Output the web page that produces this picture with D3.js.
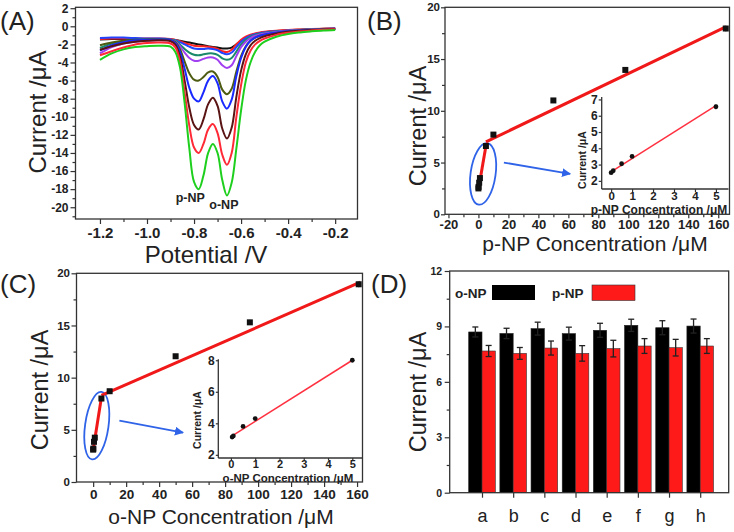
<!DOCTYPE html>
<html><head><meta charset="utf-8">
<script src="https://cdn.jsdelivr.net/npm/d3@7"></script>
<style>body{margin:0;background:#fff}svg{display:block}</style>
</head><body><svg id="c" width="734" height="532"></svg>
<script>
// ---------------- DATA ----------------
// (A) DPV curves
const potential = [-1.2,-1.15,-1.1,-1.05,-1.0,-0.95,-0.9,-0.88,-0.86,-0.84,-0.82,-0.8,-0.78,-0.76,-0.74,-0.72,-0.7,-0.68,-0.66,-0.64,-0.62,-0.6,-0.58,-0.56,-0.54,-0.52,-0.5,-0.45,-0.4,-0.35,-0.3,-0.25,-0.2];
const curveGreen = [-3.7,-3.0,-2.55,-2.3,-2.2,-2.15,-2.25,-2.8,-4.5,-8.5,-13.5,-17.2,-18.0,-16.5,-14.0,-13.0,-14.0,-17.0,-18.7,-17.3,-13.5,-9.3,-6.0,-4.0,-2.8,-2.1,-1.7,-1.15,-0.85,-0.68,-0.56,-0.46,-0.4];
const curveRed2 = [-3.2,-2.75,-2.35,-2.0,-1.85,-1.8,-1.9,-2.3,-3.8,-7.3,-11.0,-13.4,-14.0,-13.0,-11.4,-10.8,-11.8,-14.2,-15.3,-14.0,-10.0,-6.5,-4.0,-2.7,-2.0,-1.6,-1.35,-0.95,-0.72,-0.57,-0.47,-0.39,-0.32];
const curveBrown = [-2.6,-2.2,-1.9,-1.7,-1.6,-1.55,-1.65,-2.0,-3.3,-6.0,-9.0,-10.9,-11.4,-10.3,-8.6,-7.9,-8.8,-11.3,-12.4,-11.2,-7.8,-4.9,-3.1,-2.1,-1.6,-1.3,-1.1,-0.8,-0.6,-0.5,-0.42,-0.36,-0.3];
const curveBlue2 = [-2.7,-2.1,-1.75,-1.55,-1.5,-1.45,-1.55,-1.85,-2.8,-4.7,-6.8,-8.0,-8.3,-7.3,-6.0,-5.5,-6.3,-8.3,-9.1,-8.1,-5.5,-3.5,-2.3,-1.6,-1.25,-1.05,-0.9,-0.7,-0.55,-0.46,-0.4,-0.34,-0.28];
const curveOlive = [-2.1,-1.8,-1.6,-1.5,-1.45,-1.45,-1.5,-1.75,-2.5,-3.9,-5.2,-5.9,-6.0,-5.6,-5.1,-5.0,-5.6,-7.0,-7.5,-6.9,-5.0,-3.3,-2.2,-1.6,-1.25,-1.05,-0.92,-0.72,-0.56,-0.47,-0.41,-0.35,-0.3];
const curveViolet = [-3.0,-2.3,-1.9,-1.7,-1.6,-1.55,-1.55,-1.7,-2.2,-2.9,-3.5,-3.8,-3.8,-3.6,-3.45,-3.45,-3.7,-4.3,-4.6,-4.3,-3.3,-2.3,-1.7,-1.3,-1.05,-0.9,-0.8,-0.62,-0.5,-0.43,-0.38,-0.33,-0.28];
const curveTeal = [-2.4,-1.9,-1.65,-1.5,-1.45,-1.45,-1.5,-1.6,-2.0,-2.5,-2.9,-3.15,-3.2,-3.1,-3.0,-3.0,-3.15,-3.55,-3.7,-3.5,-2.8,-2.0,-1.5,-1.15,-0.95,-0.82,-0.73,-0.58,-0.48,-0.41,-0.36,-0.31,-0.27];
const curveBlue1 = [-1.3,-1.25,-1.25,-1.3,-1.35,-1.35,-1.45,-1.55,-1.75,-2.0,-2.25,-2.45,-2.5,-2.5,-2.45,-2.5,-2.65,-2.95,-3.1,-2.9,-2.3,-1.7,-1.3,-1.05,-0.88,-0.77,-0.69,-0.55,-0.46,-0.4,-0.35,-0.3,-0.26];
const curveRed1 = [-1.4,-1.35,-1.35,-1.35,-1.35,-1.35,-1.4,-1.5,-1.65,-1.85,-2.0,-2.15,-2.2,-2.2,-2.25,-2.35,-2.5,-2.75,-2.85,-2.6,-2.0,-1.5,-1.15,-0.92,-0.78,-0.68,-0.6,-0.48,-0.4,-0.35,-0.31,-0.27,-0.23];
const curveBlack = [-1.45,-1.4,-1.4,-1.4,-1.4,-1.4,-1.45,-1.5,-1.6,-1.7,-1.8,-1.9,-2.0,-2.1,-2.2,-2.3,-2.35,-2.45,-2.45,-2.35,-2.0,-1.6,-1.25,-1.0,-0.85,-0.74,-0.66,-0.52,-0.43,-0.37,-0.32,-0.28,-0.24];
const curveColors = ["#1ecf1e","#ff2a36","#5a1414","#1a2aff","#4d5c12","#a040f0","#1a8a6a","#2244ff","#ff2222","#111111"];
const aXTicks = [-1.2,-1.0,-0.8,-0.6,-0.4,-0.2];
const aXMinor = [-1.1,-0.9,-0.7,-0.5,-0.3];
const aYTicks = [-20,-18,-16,-14,-12,-10,-8,-6,-4,-2,0,2];
const aYMinor = [-21,-19,-17,-15,-13,-11,-9,-7,-5,-3,-1,1];

// (B) p-NP calibration
const pConc = [0,0.1,0.5,1,5,10,50,98,165];
const pCurrent = [2.5,2.65,3.05,3.5,6.6,7.7,11.0,13.95,17.95];
const pErr = [0.1,0.1,0.1,0.15,0.15,0.15,0.2,0.25,0.3];
const pFitLowX = [0,5], pFitLowY = [2.4,6.6];
const pFitHighX = [5,165], pFitHighY = [7.0,18.1];
const pInsetConc = [0,0.1,0.5,1,5];
const pInsetCurrent = [2.5,2.62,3.05,3.5,6.55];
const pInsetErr = [0.08,0.08,0.1,0.12,0.15];
const pInsetFitX = [0.05,5], pInsetFitY = [2.6,6.62];
const bXTicks = [-20,0,20,40,60,80,100,120,140,160];
const bXMinor = [-10,10,30,50,70,90,110,130,150];
const bYTicks = [0,5,10,15,20];
const bYMinor = [2.5,7.5,12.5,17.5];
const bInsetXTicks = [0,1,2,3,4,5];
const bInsetYTicks = [2,3,4,5,6,7];

// (C) o-NP calibration
const oConc = [0,0.1,0.5,1,5,10,50,95,161];
const oCurrent = [3.1,3.2,3.85,4.25,8.0,8.7,12.05,15.3,18.95];
const oErr = [0.1,0.1,0.12,0.15,0.15,0.15,0.2,0.25,0.3];
const oFitLowX = [0,5], oFitLowY = [3.1,8.1];
const oFitHighX = [5,162], oFitHighY = [8.3,19.15];
const oInsetConc = [0.05,0.1,0.5,1,5];
const oInsetCurrent = [3.13,3.2,3.8,4.3,8.0];
const oInsetErr = [0.1,0.1,0.1,0.12,0.1];
const oInsetFitX = [0,5], oInsetFitY = [3.15,8.0];
const cXTicks = [0,20,40,60,80,100,120,140,160];
const cXMinor = [10,30,50,70,90,110,130,150];
const cYTicks = [0,5,10,15,20];
const cYMinor = [2.5,7.5,12.5,17.5];
const cInsetXTicks = [0,1,2,3,4,5];
const cInsetYTicks = [2,4,6,8];

// (D) interference / reproducibility
const samples = ["a","b","c","d","e","f","g","h"];
const oNPValues = [8.7,8.62,8.88,8.61,8.79,9.06,8.93,9.02];
const oNPErr = [0.27,0.28,0.35,0.35,0.38,0.33,0.38,0.38];
const pNPValues = [7.67,7.54,7.83,7.54,7.8,7.94,7.85,7.94];
const pNPErr = [0.3,0.32,0.38,0.42,0.45,0.4,0.45,0.4];
const dYTicks = [0,3,6,9,12];
const dYMinor = [1.5,4.5,7.5,10.5];

// ---------------- DRAWING ----------------
const FONT = '"Liberation Sans", Arial, Helvetica, sans-serif';
const svg = d3.select("#c");
svg.append("rect").attr("width",734).attr("height",532).attr("fill","#fff");
const defs = svg.append("defs");
defs.append("marker").attr("id","arrow").attr("viewBox","0 0 10 10").attr("refX",9).attr("refY",5)
  .attr("markerWidth",5).attr("markerHeight",5).attr("orient","auto")
  .append("path").attr("d","M0,0L10,5L0,10z").attr("fill","#2f63e8");

function styleAxis(sel, size, weight) {
  sel.select(".domain").remove();
  sel.selectAll("line").attr("stroke","#333").attr("stroke-width",1.2);
  sel.selectAll("text").attr("font-size",size).attr("font-weight",weight).attr("fill","#222").attr("font-family",FONT);
}
function drawAxes(g, x, y, o) {
  const yb = y.range()[0], xl = x.range()[0];
  const fx = o.xFmt || (d => String(d)), fy = o.yFmt || (d => String(d));
  if (o.xMinor) g.append("g").attr("transform",`translate(0,${yb})`)
    .call(d3.axisBottom(x).tickValues(o.xMinor).tickSize(o.minLen||3).tickFormat("")).call(s=>styleAxis(s,0,"bold"));
  if (o.yMinor) g.append("g").attr("transform",`translate(${xl},0)`)
    .call(d3.axisLeft(y).tickValues(o.yMinor).tickSize(o.minLen||3).tickFormat("")).call(s=>styleAxis(s,0,"bold"));
  if (o.xTicks) g.append("g").attr("transform",`translate(0,${yb})`)
    .call(d3.axisBottom(x).tickValues(o.xTicks).tickSize(o.majLen||5).tickPadding(o.xPad).tickFormat(fx))
    .call(s=>styleAxis(s,o.xSize,o.xWeight||"bold"));
  if (o.yTicks) g.append("g").attr("transform",`translate(${xl},0)`)
    .call(d3.axisLeft(y).tickValues(o.yTicks).tickSize(o.majLen||5).tickPadding(o.yPad).tickFormat(fy))
    .call(s=>styleAxis(s,o.ySize,o.yWeight||"bold"));
}
function frame(g, x, y) {
  const [x0,x1] = x.range(), [y0,y1] = y.range();
  g.append("rect").attr("x",x0).attr("y",y1).attr("width",x1-x0).attr("height",y0-y1)
    .attr("fill","none").attr("stroke","#333").attr("stroke-width",1.3);
}
function label(g, txt, x, y, size, opts={}) {
  const t = g.append("text").attr("x",x).attr("y",y).attr("font-size",size).attr("font-family",FONT)
    .attr("fill",opts.fill||"#222").attr("text-anchor",opts.anchor||"middle").attr("font-weight",opts.weight||"normal").text(txt);
  if (opts.rotate) t.attr("transform",`rotate(-90,${x},${y})`);
  return t;
}
function points(g, x, y, xs, ys, errs, shape) {
  xs.forEach((xv,i) => {
    const cx = x(xv), cy = y(ys[i]);
    g.append("line").attr("x1",cx).attr("x2",cx).attr("y1",y(ys[i]-errs[i])).attr("y2",y(ys[i]+errs[i]))
      .attr("stroke","#999").attr("stroke-width",1.5);
    if (shape==="square") g.append("rect").attr("x",cx-3).attr("y",cy-3).attr("width",6).attr("height",6).attr("fill","#111");
    else g.append("circle").attr("cx",cx).attr("cy",cy).attr("r",2.4).attr("fill","#111");
  });
}
function fit(g, x, y, xs, ys, w, col) {
  g.append("path").datum(xs.map((v,i)=>[v,ys[i]]))
    .attr("d", d3.line().x(d=>x(d[0])).y(d=>y(d[1]))).attr("stroke",col||"#f01818").attr("stroke-width",w).attr("fill","none");
}

// ---------- Panel A ----------
{
  const g = svg.append("g");
  const x = d3.scaleLinear().domain([-1.304,-0.105]).range([75.5,357.5]);
  const y = d3.scaleLinear().domain([-21.3,2.1]).range([219,7.3]);
  defs.append("clipPath").attr("id","clipA").append("rect").attr("x",75.5).attr("y",7.3).attr("width",282).attr("height",211.7);
  const curves = [curveGreen,curveRed2,curveBrown,curveBlue2,curveOlive,curveViolet,curveTeal,curveBlue1,curveRed1,curveBlack];
  const line = d3.line().x((d,i)=>x(potential[i])).y(d=>y(d)).curve(d3.curveCatmullRom.alpha(0.5));
  const cg = g.append("g").attr("clip-path","url(#clipA)");
  curves.slice().reverse().forEach((c,i) => {
    const col = curveColors[curves.length-1-i];
    cg.append("path").attr("d",line(c)).attr("fill","none").attr("stroke",col).attr("stroke-width",2);
  });
  drawAxes(g,x,y,{xTicks:aXTicks,xMinor:aXMinor,yTicks:aYTicks,yMinor:aYMinor,xSize:15,ySize:12,xPad:3.5,yPad:2,xFmt:d=>d.toFixed(1)});
  frame(g,x,y);
  label(g,"p-NP",x(-0.816),y(-19.4),12.5,{weight:"bold"});
  label(g,"o-NP",x(-0.673),y(-20.15),12.5,{weight:"bold"});
  label(g,"Potential /V",206,263,24);
  label(g,"Current /\u03bcA",46,112,24,{rotate:true});
  label(g,"(A)",0,29.5,26,{anchor:"start"});
}

// ---------- Panel B ----------
{
  const g = svg.append("g");
  const x = d3.scaleLinear().domain([-22.3,167.5]).range([445,729.5]);
  const y = d3.scaleLinear().domain([0,20]).range([214.3,7.3]);
  drawAxes(g,x,y,{xTicks:bXTicks,xMinor:bXMinor,yTicks:bYTicks,yMinor:bYMinor,xSize:13,ySize:11.5,xPad:1,yPad:1,majLen:4});
  frame(g,x,y);
  g.append("ellipse").attr("cx",x(3.1)).attr("cy",y(3.9)).attr("rx",12.5).attr("ry",31)
    .attr("transform",`rotate(8,${x(3.1)},${y(3.9)})`).attr("fill","none").attr("stroke","#2f63e8").attr("stroke-width",1.8);
  fit(g,x,y,pFitLowX,pFitLowY,3);
  fit(g,x,y,pFitHighX,pFitHighY,3);
  points(g,x,y,pConc,pCurrent,pErr,"square");
  g.append("line").attr("x1",x(17)).attr("y1",y(5.0)).attr("x2",x(61.2)).attr("y2",y(3.9))
    .attr("stroke","#2f63e8").attr("stroke-width",1.8).attr("marker-end","url(#arrow)");
  // inset
  const xi = d3.scaleLinear().domain([-0.45,5.6]).range([601.7,728.5]);
  const yi = d3.scaleLinear().domain([1.5,7.15]).range([189,97]);
  const ig = g.append("g");
  drawAxes(ig,xi,yi,{xTicks:bInsetXTicks,yTicks:bInsetYTicks,xSize:11.5,ySize:12,xPad:0,yPad:1,majLen:3});
  ig.append("line").attr("x1",601.7).attr("x2",601.7).attr("y1",97).attr("y2",189).attr("stroke","#333").attr("stroke-width",1.3);
  ig.append("line").attr("x1",601.7).attr("x2",728.5).attr("y1",189).attr("y2",189).attr("stroke","#333").attr("stroke-width",1.3);
  fit(ig,xi,yi,pInsetFitX,pInsetFitY,1.5,"#ff3040");
  points(ig,xi,yi,pInsetConc,pInsetCurrent,pInsetErr,"circle");
  label(ig,"p-NP Concentration /\u03bcM",659,214,12,{weight:"bold"});
  label(ig,"Current /\u03bcA",586,160,10.5,{weight:"bold",rotate:true});
  label(g,"p-NP Concentration /\u03bcM",595,251,21);
  label(g,"Current /\u03bcA",425.5,126,23.5,{rotate:true});
  label(g,"(B)",367,29.5,26,{anchor:"start"});
}

// ---------- Panel C ----------
{
  const g = svg.append("g");
  const x = d3.scaleLinear().domain([-10.1,163.3]).range([76.5,362.5]);
  const y = d3.scaleLinear().domain([0,20]).range([482,273.3]);
  drawAxes(g,x,y,{xTicks:cXTicks,xMinor:cXMinor,yTicks:cYTicks,yMinor:cYMinor,xSize:13.5,ySize:11.5,xPad:2,yPad:1.5});
  frame(g,x,y);
  g.append("ellipse").attr("cx",x(2.2)).attr("cy",y(5.4)).attr("rx",11.7).attr("ry",34)
    .attr("transform",`rotate(8,${x(2.2)},${y(5.4)})`).attr("fill","none").attr("stroke","#2f63e8").attr("stroke-width",1.8);
  fit(g,x,y,oFitLowX,oFitLowY,3);
  fit(g,x,y,oFitHighX,oFitHighY,3);
  points(g,x,y,oConc,oCurrent,oErr,"square");
  g.append("line").attr("x1",x(15.9)).attr("y1",y(5.88)).attr("x2",x(54.5)).attr("y2",y(4.73))
    .attr("stroke","#2f63e8").attr("stroke-width",1.8).attr("marker-end","url(#arrow)");
  const xi = d3.scaleLinear().domain([-0.52,5.42]).range([218.3,362.5]);
  const yi = d3.scaleLinear().domain([1.8,8.06]).range([458,359.3]);
  const ig = g.append("g");
  drawAxes(ig,xi,yi,{xTicks:cInsetXTicks,yTicks:cInsetYTicks,xSize:11,ySize:12,xPad:0,yPad:1,majLen:2.5});
  ig.append("line").attr("x1",218.3).attr("x2",218.3).attr("y1",359.3).attr("y2",458).attr("stroke","#333").attr("stroke-width",1.3);
  ig.append("line").attr("x1",218.3).attr("x2",362.5).attr("y1",458).attr("y2",458).attr("stroke","#333").attr("stroke-width",1.3);
  fit(ig,xi,yi,oInsetFitX,oInsetFitY,1.5,"#ff3040");
  points(ig,xi,yi,oInsetConc,oInsetCurrent,oInsetErr,"circle");
  label(ig,"o-NP Concentration /\u03bcM",288,482,11.5,{weight:"bold"});
  label(ig,"Current /\u03bcA",201,420,10.5,{weight:"bold",rotate:true});
  label(g,"o-NP Concentration /\u03bcM",221,524,21);
  label(g,"Current /\u03bcA",48,390,23.5,{rotate:true});
  label(g,"(C)",0,292.5,26,{anchor:"start"});
}

// ---------- Panel D ----------
{
  const g = svg.append("g");
  const left = 449.7, right = 728.7;
  const x = d3.scalePoint().domain(samples).range([left+32.3, right-28.5]);
  const xr = d3.scaleLinear().range([left,right]);
  const y = d3.scaleLinear().domain([0,12]).range([492.7,271]);
  const bw = 13.3;
  samples.forEach((s,i) => {
    const c = x(s);
    g.append("rect").attr("x",c-bw).attr("y",y(oNPValues[i])).attr("width",bw).attr("height",y(0)-y(oNPValues[i]))
      .attr("fill","#000").attr("stroke","#222").attr("stroke-width",0.6);
    g.append("rect").attr("x",c).attr("y",y(pNPValues[i])).attr("width",bw).attr("height",y(0)-y(pNPValues[i]))
      .attr("fill","#ff1a1a").attr("stroke","#333").attr("stroke-width",0.6);
    [[c-bw/2,oNPValues[i],oNPErr[i]],[c+bw/2,pNPValues[i],pNPErr[i]]].forEach(([cx,v,e]) => {
      g.append("line").attr("x1",cx).attr("x2",cx).attr("y1",y(v-e)).attr("y2",y(v+e)).attr("stroke","#222").attr("stroke-width",1.3);
      [v-e,v+e].forEach(t => g.append("line").attr("x1",cx-3).attr("x2",cx+3).attr("y1",y(t)).attr("y2",y(t)).attr("stroke","#222").attr("stroke-width",1.3));
    });
  });
  g.append("g").attr("transform",`translate(0,${y(0)})`)
    .call(d3.axisBottom(x).tickSize(5).tickPadding(12).tickFormat(d=>d)).call(s=>styleAxis(s,18,"normal"));
  drawAxes(g,xr,y,{yTicks:dYTicks,yMinor:dYMinor,ySize:10.5,yPad:2.5});
  frame(g,xr,y);
  label(g,"o-NP",455,297.5,13.5,{anchor:"start",weight:"bold"});
  g.append("rect").attr("x",492).attr("y",285).attr("width",43).attr("height",15).attr("fill","#000");
  label(g,"p-NP",552,297.5,13.5,{anchor:"start",weight:"bold"});
  g.append("rect").attr("x",592).attr("y",285).attr("width",43).attr("height",15.5).attr("fill","#ff1a1a").attr("stroke","#333").attr("stroke-width",0.6);
  label(g,"Current /\u03bcA",425.5,392,23.5,{rotate:true});
  label(g,"(D)",371,292.5,26,{anchor:"start"});
}
</script></body></html>
